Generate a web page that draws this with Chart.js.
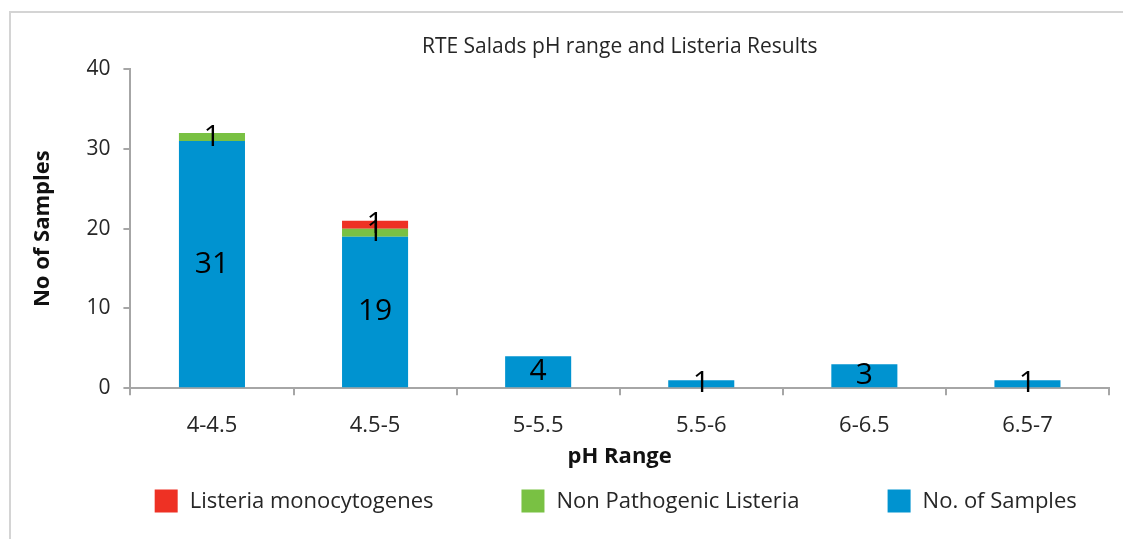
<!DOCTYPE html>
<html>
<head>
<meta charset="utf-8">
<script src="https://cdn.jsdelivr.net/npm/chart.js@4.4.1/dist/chart.umd.min.js"></script>
<style>
html,body{margin:0;padding:0;background:#fff;}
#wrap{position:relative;width:1123px;height:539px;}
</style>
</head>
<body>
<div id="wrap"><canvas id="c" width="1123" height="539"></canvas></div>
<script>
const categories = ["4-4.5", "4.5-5", "5-5.5", "5.5-6", "6-6.5", "6.5-7"];
const samples = [31, 19, 4, 1, 3, 1];
const nonPathogenic = [1, 1, 0, 0, 0, 0];
const monocytogenes = [0, 1, 0, 0, 0, 0];
const yTicks = [0, 10, 20, 30, 40];

const FONT = "'Open Sans', 'Noto Sans', sans-serif";
const TEXT = '#262626';

const borderPlugin = {
  id: 'frame',
  beforeDraw(chart) {
    const ctx = chart.ctx;
    ctx.save();
    ctx.fillStyle = '#fff';
    ctx.fillRect(0, 0, chart.width, chart.height);
    ctx.strokeStyle = '#d4d4d4';
    ctx.lineWidth = 2;
    ctx.beginPath();
    ctx.moveTo(10, chart.height);
    ctx.lineTo(10, 12);
    ctx.lineTo(chart.width, 12);
    ctx.stroke();
    ctx.restore();
  }
};

const labelPlugin = {
  id: 'valueLabels',
  afterDatasetsDraw(chart) {
    const ctx = chart.ctx;
    ctx.save();
    ctx.fillStyle = '#000';
    ctx.font = "30px " + FONT;
    ctx.textAlign = 'center';
    ctx.textBaseline = 'middle';
    chart.data.datasets.forEach((ds, di) => {
      const meta = chart.getDatasetMeta(di);
      meta.data.forEach((el, i) => {
        const v = ds.data[i];
        if (!v) return;
        const y = (el.y + el.base) / 2;
        ctx.fillText(String(v), el.x, y);
      });
    });
    ctx.restore();
  }
};

const legendPlugin = {
  id: 'bottomLegend',
  afterDraw(chart) {
    const ctx = chart.ctx;
    const box = 23, gap = 12, pad = 88, fs = 22;
    ctx.save();
    ctx.font = fs + "px " + FONT;
    const items = chart.data.datasets.slice().reverse().map(ds => ({
      text: ds.label, color: ds.backgroundColor,
      w: box + gap + ctx.measureText(ds.label).width
    }));
    const total = items.reduce((s, it) => s + it.w, 0) + pad * (items.length - 1);
    const ca = chart.chartArea;
    let x = (ca.left + ca.right) / 2 - 4 - total / 2;
    const cy = 501;
    ctx.textBaseline = 'middle';
    ctx.textAlign = 'left';
    items.forEach(it => {
      ctx.fillStyle = it.color;
      ctx.fillRect(x, cy - box / 2, box, box);
      ctx.fillStyle = TEXT;
      ctx.fillText(it.text, x + box + gap, cy + 1);
      x += it.w + pad;
    });
    ctx.restore();
  }
};

new Chart(document.getElementById('c'), {
  type: 'bar',
  data: {
    labels: categories,
    datasets: [
      { label: 'No. of Samples', data: samples, backgroundColor: '#0093D0', barPercentage: 0.405, categoryPercentage: 1.0 },
      { label: 'Non Pathogenic Listeria', data: nonPathogenic, backgroundColor: '#79C143', barPercentage: 0.405, categoryPercentage: 1.0 },
      { label: 'Listeria monocytogenes', data: monocytogenes, backgroundColor: '#EE3124', barPercentage: 0.405, categoryPercentage: 1.0 }
    ]
  },
  options: {
    responsive: false,
    animation: false,
    devicePixelRatio: 1,
    layout: { padding: { left: 20, right: 14, top: 12, bottom: 69 } },
    plugins: {
      title: {
        display: true,
        fullSize: false,
        text: 'RTE Salads pH range and Listeria Results',
        color: TEXT,
        font: { family: FONT, size: 21, weight: 'normal' },
        padding: { top: 22, bottom: 10 }
      },
      legend: { display: false },
      tooltip: { enabled: false }
    },
    scales: {
      x: {
        stacked: true,
        grid: { display: true, drawOnChartArea: false, drawTicks: true, tickLength: 7, color: '#a6a6a6', lineWidth: 2, offset: true },
        border: { display: true, color: '#a6a6a6', width: 2 },
        ticks: { color: TEXT, font: { family: FONT, size: 22 }, padding: 17 },
        title: { display: true, text: 'pH Range', color: '#111', font: { family: FONT, size: 22, weight: 'bold' }, padding: { top: -12, bottom: 0 } }
      },
      y: {
        stacked: true,
        min: 0,
        max: 40,
        afterBuildTicks(axis) { axis.ticks = yTicks.map(v => ({ value: v })); },
        grid: { display: true, drawOnChartArea: false, drawTicks: true, tickLength: 7, color: '#a6a6a6', lineWidth: 2 },
        border: { display: true, color: '#a6a6a6', width: 2 },
        ticks: { color: TEXT, font: { family: FONT, size: 21 }, padding: 13 },
        title: { display: true, text: 'No of Samples', color: '#111', font: { family: FONT, size: 22, weight: 'bold' }, padding: { top: 10, bottom: 17 } }
      }
    }
  },
  plugins: [borderPlugin, labelPlugin, legendPlugin]
});
</script>
</body>
</html>
